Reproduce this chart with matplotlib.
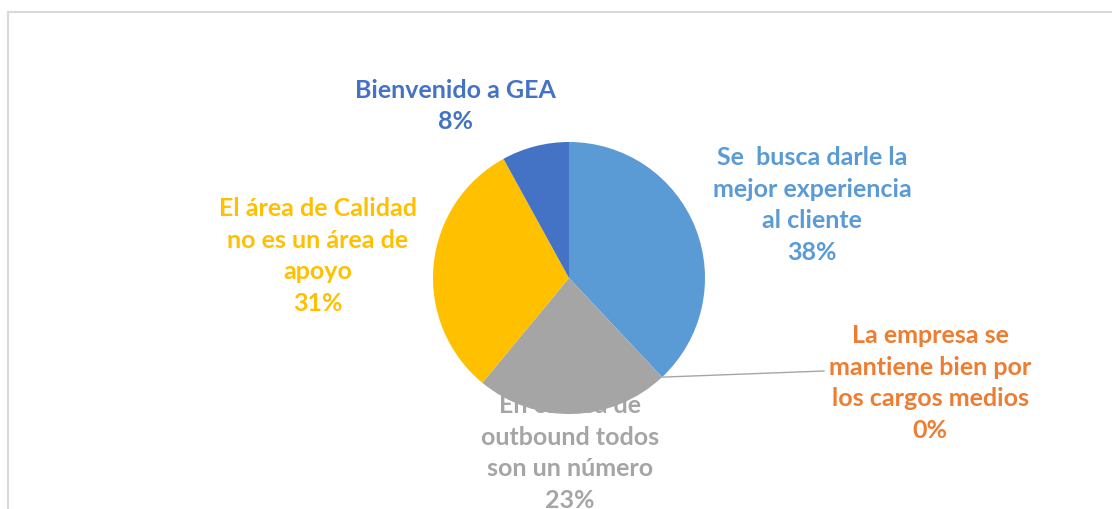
import numpy as np
import matplotlib.pyplot as plt
from matplotlib.patches import Rectangle

categories = [
    "Se  busca darle la\nmejor experiencia\nal cliente",
    "La empresa se\nmantiene bien por\nlos cargos medios",
    "En el área de\noutbound todos\nson un número",
    "El área de Calidad\nno es un área de\napoyo",
    "Bienvenido a GEA",
]
values = [38, 0, 23, 31, 8]
colors = ["#5B9BD5", "#ED7D31", "#A5A5A5", "#FFC000", "#4472C4"]

W, H = 1112, 510
plt.rcParams["font.family"] = ["Lato", "DejaVu Sans"]

fig = plt.figure(figsize=(W / 100, H / 100), dpi=100)
ax = fig.add_axes([0, 0, 1, 1])

# chart border (cropped at right/bottom in the reference)
ax.add_patch(Rectangle((8, -20), W + 40, H - 13 + 20, fill=False,
                       edgecolor="#D9D9D9", linewidth=1.5, zorder=0))

cx, cy, r = 569, H - 279, 136
wedges, _ = ax.pie(values, colors=colors, startangle=90, counterclock=False,
                   center=(cx, cy), radius=r, frame=True,
                   wedgeprops=dict(linewidth=0, zorder=3))
ax.set_xlim(0, W)
ax.set_ylim(0, H)
ax.set_aspect("equal")
ax.axis("off")

# label anchor positions (pixel coords from top-left), centre of text block
label_pos = [(812, 205), (930, 383), (570, 453), (318, 256), (455, 106)]
for cat, v, col, (px, py) in zip(categories, values, colors, label_pos):
    ax.text(px, H - py, f"{cat}\n{v}%", color=col, fontsize=18, fontweight="bold",
            ha="center", va="center", linespacing=1.45, zorder=2)

# leader line for the 0% slice
cum = np.cumsum([0] + values)
ang = np.deg2rad(90 - 360 * cum[1] / sum(values))
ex, ey = cx + r * np.cos(ang), cy + r * np.sin(ang)
ax.plot([ex, 824], [ey, H - 372], color="#A6A6A6", linewidth=1, zorder=4)

fig.savefig("out.png", dpi=100)
